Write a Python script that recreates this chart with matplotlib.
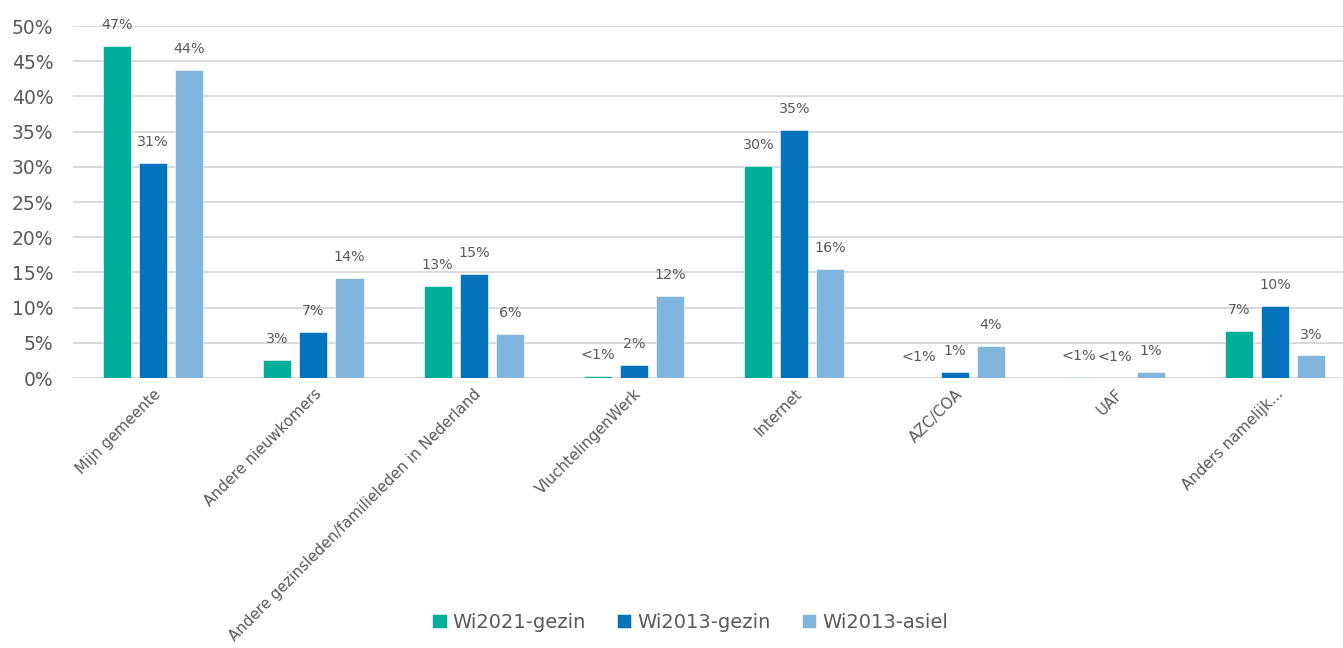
import matplotlib
matplotlib.use('Agg')
import matplotlib.pyplot as plt
import numpy as np

categories = ['Mijn gemeente', 'Andere nieuwkomers',
              'Andere gezinsleden/familieleden in Nederland', 'VluchtelingenWerk',
              'Internet', 'AZC/COA', 'UAF', 'Anders namelijk...']
series_names = ['Wi2021-gezin', 'Wi2013-gezin', 'Wi2013-asiel']
wi2021_gezin = [47.2, 2.6, 13.1, 0.3, 30.1, 0.0, 0.1, 6.7]
wi2013_gezin = [30.6, 6.5, 14.8, 1.8, 35.2, 0.9, 0.0, 10.2]
wi2013_asiel = [43.7, 14.2, 6.3, 11.7, 15.5, 4.5, 0.9, 3.2]
labels_2021 = ['47%', '3%', '13%', '<1%', '30%', '<1%', '<1%', '7%']
labels_2013g = ['31%', '7%', '15%', '2%', '35%', '1%', '<1%', '10%']
labels_2013a = ['44%', '14%', '6%', '12%', '16%', '4%', '1%', '3%']

colors = ['#00AE9A', '#0572BD', '#81B5DD']
text_col = '#595959'

fig = plt.figure(figsize=(13.43, 6.48), dpi=100)
ax = fig.add_axes([73/1343, 1-378/648, 1-73/1343, (378-26)/648])

x = np.arange(len(categories))
w = 0.175
step = 0.225
all_vals = [wi2021_gezin, wi2013_gezin, wi2013_asiel]
all_labels = [labels_2021, labels_2013g, labels_2013a]
for k in range(3):
	pos = x + (k-1)*step
	bars = ax.bar(pos, all_vals[k], width=w, color=colors[k], label=series_names[k],
	              edgecolor='white', linewidth=0.4, zorder=3)
	for p, v, lab in zip(pos, all_vals[k], all_labels[k]):
		ax.annotate(lab, (p, v), xytext=(0, 10), textcoords='offset points',
		            ha='center', va='bottom', fontsize=10.3, color=text_col)

ax.set_ylim(0, 50)
ax.set_xlim(-0.5, -0.5 + (1343-73)/160.3)
ax.set_yticks(np.arange(0, 51, 5))
ax.set_yticklabels(['{0}%'.format(t) for t in range(0, 51, 5)], fontsize=13.5, color=text_col)
ax.yaxis.grid(True, color='#D9D9D9', linewidth=1.4, zorder=0)
ax.set_axisbelow(True)
for s in ax.spines.values():
	s.set_visible(False)
ax.tick_params(axis='y', length=0, pad=14)
ax.tick_params(axis='x', length=0, pad=6)
ax.set_xticks(x)
ax.set_xticklabels(categories, rotation=45, ha='right', rotation_mode='anchor',
                   fontsize=10.8, color=text_col)

fig.legend(loc='center', bbox_to_anchor=(690/1343, 1-622/648), ncol=3, frameon=False,
           fontsize=14, handlelength=0.75, handleheight=0.75, handletextpad=0.3,
           columnspacing=1.6, labelcolor=text_col)

plt.savefig('out.png', dpi=100)
